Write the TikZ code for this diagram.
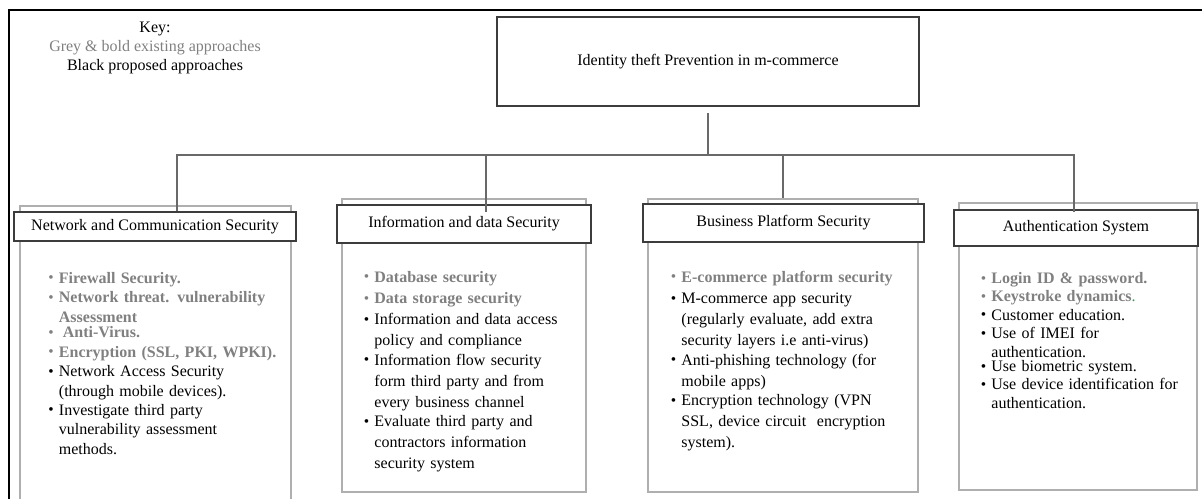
\documentclass[tikz,border=0pt]{standalone}
\usepackage{fontspec}
\setmainfont{Liberation Serif}
\definecolor{greytxt}{RGB}{128,128,128}
\definecolor{connc}{RGB}{105,105,105}
\definecolor{hdrc}{RGB}{60,60,60}
\definecolor{outc}{RGB}{175,175,175}
\definecolor{dotgreen}{RGB}{40,160,80}
\newlength\colskip
\newcommand\bul{\makebox[8pt][l]{\raisebox{0.3pt}{\fontsize{11.5}{11.5}\selectfont\textbullet}}}
\newcommand\itembox[1]{\vtop{\hsize=\dimexpr\hsize-8pt\relax\baselineskip=\colskip\lineskiplimit=-10pt\noindent\strut #1\par}}
\newcommand\gitem[1]{\par\noindent\strut{\color{greytxt}\bul\itembox{\bfseries #1}}}
\newcommand\bitem[1]{\par\noindent\strut\bul\itembox{#1}}
\begin{document}
\begin{tikzpicture}[x=0.75pt,y=-0.75pt,
  frame/.style={line width=1.6pt, black},
  conn/.style={line width=1.5pt, draw=connc},
  topbox/.style={draw=hdrc, line width=1.4pt, fill=white, inner sep=0pt,
    font=\fontsize{12}{13.8}\selectfont},
  hdr/.style={draw=hdrc, line width=1.1pt, fill=white, inner sep=0pt,
    font=\fontsize{12}{13.8}\selectfont},
  outer/.style={draw=outc, line width=1.1pt, inner sep=0pt},
  itemlist/.style={anchor=north west, inner sep=0pt, align=left, text width=#1},
  skip/.style={font=\fontsize{12}{#1}\selectfont\setlength\colskip{#1}},
  keytext/.style={align=center, inner sep=0pt, font=\fontsize{12}{14.2}\selectfont}
]
\useasboundingbox (0,0) rectangle (1202,499);
\clip (0,0) rectangle (1202,499);

% outer frame
\draw[frame] (1202,10) -- (9,10) -- (9,499);

% key
\node[keytext] (key) at (155,48) {Key:\\{\color{greytxt}Grey \& bold existing approaches}\\Black proposed approaches};

% top box
\node[topbox, minimum width=316.5pt, minimum height=66.75pt] (top) at (708,61.5) {Identity theft Prevention in m-commerce};

% outer column boxes
\node[outer, minimum width=203.25pt, minimum height=228pt] (o1) at (155.5,358) {};
\node[outer, minimum width=183pt, minimum height=219.75pt] (o2) at (464,345.5) {};
\node[outer, minimum width=202.5pt, minimum height=219.75pt] (o3) at (783,345.5) {};
\node[outer, minimum width=178.5pt, minimum height=215.25pt] (o4) at (1078,346.5) {};

% headers
\node[hdr, minimum width=211.5pt, minimum height=21.75pt] (h1) at (155,226.5) {Network and Communication Security};
\node[hdr, minimum width=190.5pt, minimum height=28.5pt] (h2) at (464,224) {Information and data Security};
\node[hdr, minimum width=210.75pt, minimum height=28.5pt] (h3) at (783.5,223) {Business Platform Security};
\node[hdr, minimum width=183pt, minimum height=27pt] (h4) at (1076,228) {Authentication System};

% connectors
\coordinate (bus) at (708,155);
\draw[conn, shorten <=4.5pt] (top.south) -- (bus);
\draw[conn] (bus) -| ([xshift=16.5pt]h1.north);
\draw[conn] (bus) -| ([xshift=16.5pt,yshift=-6pt]h2.north);
\draw[conn] (bus) -| (o3.north);
\draw[conn] (bus) -| ([xshift=-1.5pt,yshift=-2.25pt]h4.north);

% item lists
\node[itemlist=175pt, skip=14.7pt] (l1) at (48,263.5) {%
\baselineskip=\colskip
\gitem{Firewall Security.}
\gitem{Network threat. vulnerability\newline Assessment}
\gitem{\hspace{3pt}Anti-Virus.}
\gitem{Encryption (SSL, PKI, WPKI).}
\bitem{Network Access Security\newline (through mobile devices).}
\bitem{Investigate third party\newline vulnerability assessment\newline methods.}};

\node[itemlist=165pt, skip=15.8pt] (l2) at (363.5,261) {%
\baselineskip=\colskip
\gitem{Database security}
\gitem{Data storage security}
\bitem{Information and data access\newline policy and compliance}
\bitem{Information flow security\newline form third party and from\newline every business channel}
\bitem{Evaluate third party and\newline contractors information\newline security system}};

\node[itemlist=185pt, skip=15.8pt] (l3) at (670.5,261) {%
\baselineskip=\colskip
\gitem{E-commerce platform security}
\bitem{M-commerce app security\newline (regularly evaluate, add extra\newline security layers i.e anti-virus)}
\bitem{Anti-phishing technology (for\newline mobile apps)}
\bitem{Encryption technology (VPN\newline SSL, device circuit\ \ encryption\newline system).}};

\node[itemlist=165pt, skip=13.8pt] (l4) at (980.5,264.8) {%
\baselineskip=\colskip
\gitem{Login ID \& password.}
\gitem{Keystroke dynamics{\mdseries\color{dotgreen}.}}
\bitem{Customer education.}
\bitem{Use of IMEI for\newline authentication.}
\bitem{Use biometric system.}
\bitem{Use device identification for\newline authentication.}};
\end{tikzpicture}
\end{document}
